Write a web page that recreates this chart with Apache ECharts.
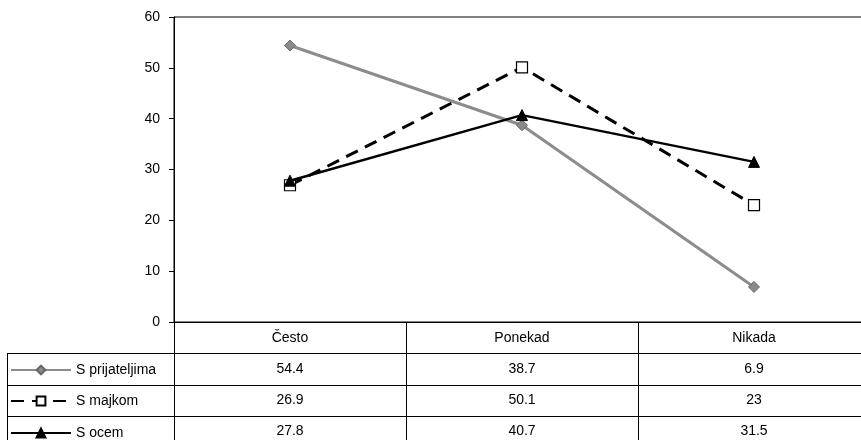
<!DOCTYPE html>
<html><head><meta charset="utf-8">
<script src="https://cdn.jsdelivr.net/npm/echarts@6/dist/echarts.min.js"></script>
<style>html,body{margin:0;padding:0;background:#fff}#c{width:861px;height:440px}</style>
</head><body><div id="c"></div>
<script>
const categories = ['Često', 'Ponekad', 'Nikada'];
const seriesNames = ['S prijateljima', 'S majkom', 'S ocem'];
const sPrijateljima = [54.4, 38.7, 6.9];
const sMajkom = [26.9, 50.1, 23];
const sOcem = [27.8, 40.7, 31.5];
const yTicks = [0, 10, 20, 30, 40, 50, 60];
const allValues = [sPrijateljima, sMajkom, sOcem];

const chart = echarts.init(document.getElementById('c'), null, {renderer: 'canvas'});
const font = 'Liberation Sans, Arial, sans-serif';
const fs = 14;
const tableLines = [353.5, 385.5, 416.5];
const graphics = tableLines.map(y => ({
  type: 'line', shape: {x1: 7, y1: y, x2: 861, y2: y},
  style: {stroke: '#000', lineWidth: 1}, z: 10
}));
graphics.push({type: 'line', shape: {x1: 7.5, y1: 353, x2: 7.5, y2: 440}, style: {stroke: '#000', lineWidth: 1}, z: 10});

const legendTops = [363, 394, 426];
const legends = seriesNames.map((n, i) => ({
  orient: 'horizontal', left: 10, top: legendTops[i], itemWidth: 60, itemHeight: 11,
  data: [n], selectedMode: false, padding: 0,
  textStyle: {fontFamily: font, fontSize: fs, color: '#000'}
}));

chart.setOption({
  animation: false,
  backgroundColor: '#fff',
  textStyle: {fontFamily: font},
  grid: {left: 174, top: 17, width: 696, bottom: 118, show: true, borderColor: '#000', borderWidth: 1,
         backgroundColor: 'transparent', outerBoundsMode: 'none', containLabel: false},
  legend: legends,
  xAxis: {
    type: 'category', data: categories, boundaryGap: true,
    axisLine: {lineStyle: {color: '#000', width: 1}},
    axisTick: {show: true, inside: false, length: 125, interval: 0, lineStyle: {color: '#000', width: 1}},
    axisLabel: {
      interval: 0, margin: 1, color: '#000', fontFamily: font, fontSize: fs, lineHeight: 31,
      formatter: function (v, i) { return [v].concat(allValues.map(a => String(a[i]))).join('\n'); }
    }
  },
  yAxis: {
    type: 'value', min: yTicks[0], max: yTicks[yTicks.length - 1], interval: 10,
    splitLine: {show: false},
    axisLine: {show: true, lineStyle: {color: '#000', width: 1}},
    axisTick: {show: true, inside: false, length: 5, lineStyle: {color: '#000'}},
    axisLabel: {color: '#000', fontFamily: font, fontSize: fs, margin: 14}
  },
  graphic: graphics,
  series: [
    {name: seriesNames[0], type: 'line', data: sPrijateljima, symbol: 'diamond', symbolSize: 11,
     lineStyle: {color: '#8c8c8c', width: 3}, itemStyle: {color: '#8a8a8a', borderColor: '#666', borderWidth: 1}, z: 2},
    {name: seriesNames[1], type: 'line', data: sMajkom, symbol: 'rect', symbolSize: 11,
     lineStyle: {color: '#000', width: 3, type: [13, 8]}, itemStyle: {color: '#fff', borderColor: '#000', borderWidth: 1.2}, z: 3},
    {name: seriesNames[2], type: 'line', data: sOcem, symbol: 'triangle', symbolSize: 11,
     lineStyle: {color: '#000', width: 2.5}, itemStyle: {color: '#000', borderColor: '#000', borderWidth: 1}, z: 4}
  ]
});
</script></body></html>
